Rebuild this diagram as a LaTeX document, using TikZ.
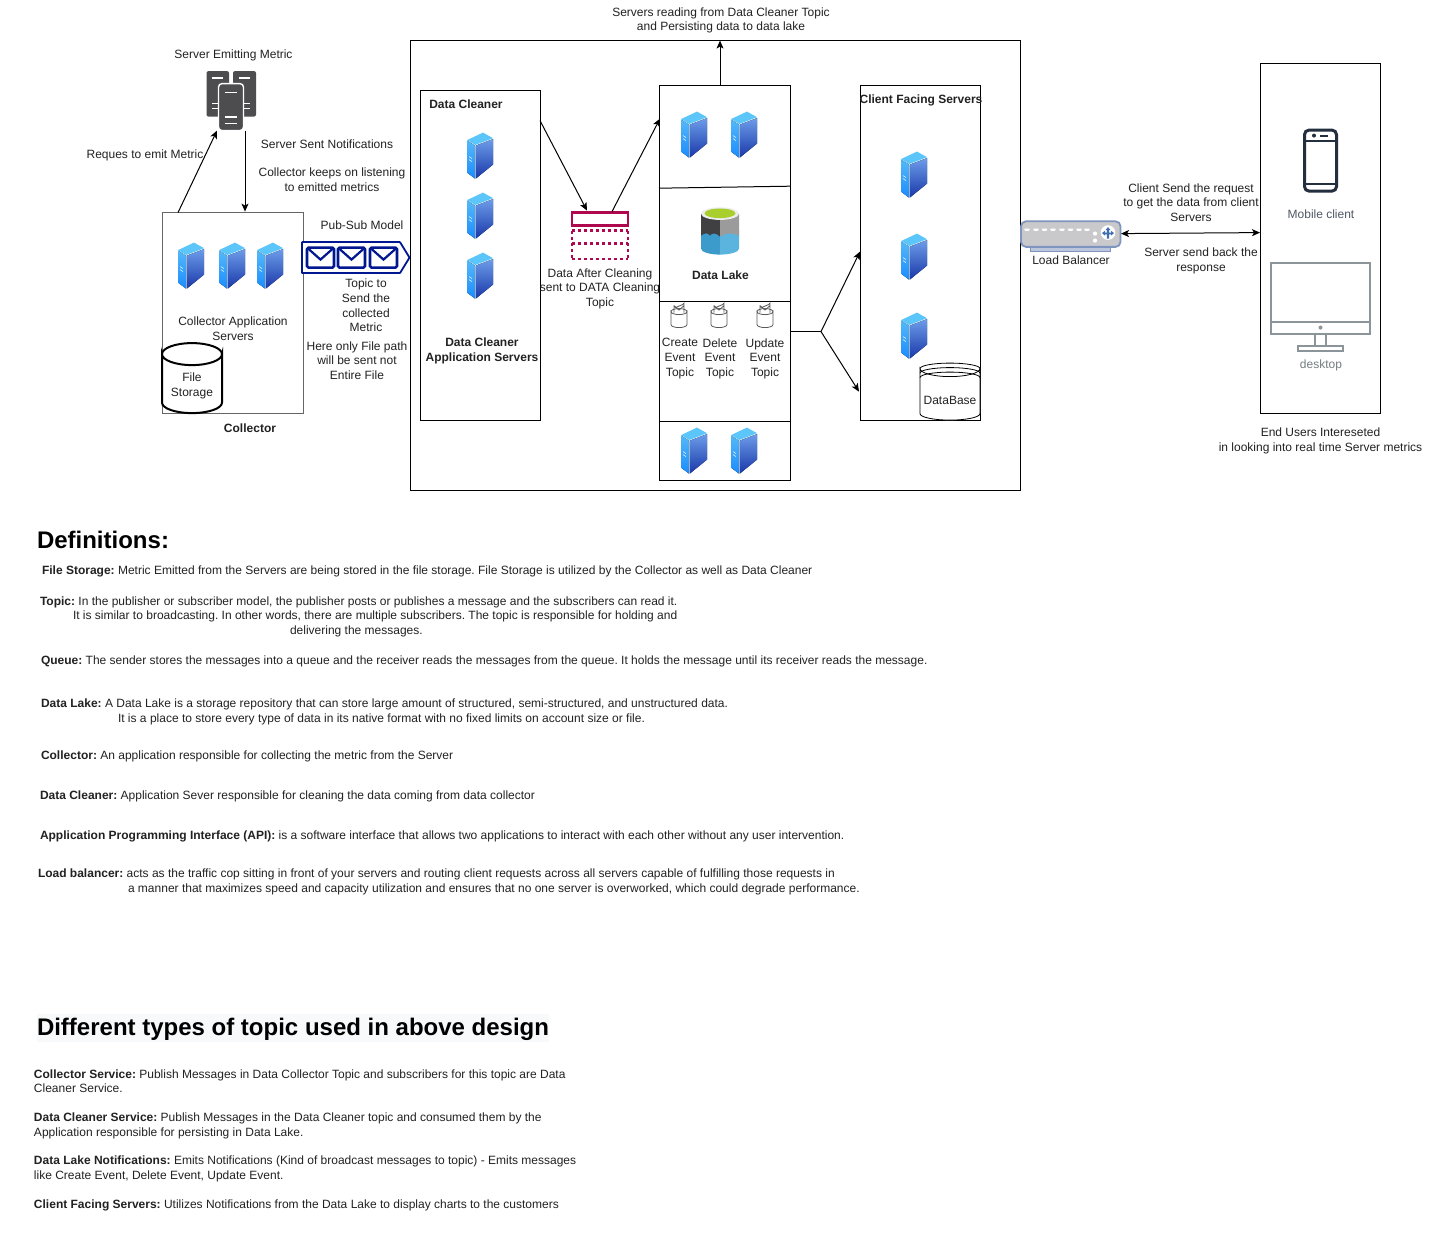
\documentclass[tikz,border=0pt]{standalone}
\usepackage{fontspec}
\setmainfont{Liberation Sans}
\usetikzlibrary{arrows.meta,calc}
\definecolor{lbl}{HTML}{222222}
\definecolor{navy}{HTML}{00188F}
\definecolor{pinkt}{HTML}{B0084F}
\definecolor{cardgrey}{HTML}{666666}
\definecolor{darksrv}{HTML}{4D4D4F}
\definecolor{phone}{HTML}{232F3E}
\definecolor{deskgrey}{HTML}{8A9499}
\definecolor{srvL1}{HTML}{55B8F8}
\definecolor{srvL2}{HTML}{1A8CFF}
\definecolor{srvR1}{HTML}{6C9CEA}
\definecolor{srvR2}{HTML}{1A38A8}
\definecolor{srvT}{HTML}{5CC5F9}
\definecolor{lbstroke}{HTML}{7F94BE}
\definecolor{lbbase}{HTML}{BBC6DD}
\definecolor{lbfill}{HTML}{C9C9CB}
\definecolor{lbicon}{HTML}{3F6FAF}
\definecolor{waterL}{HTML}{3C9BCB}
\definecolor{waterR}{HTML}{5BB4DE}
\definecolor{lkgreen}{HTML}{A8CF2D}
\definecolor{lkdark}{HTML}{404042}
\definecolor{lkgrey}{HTML}{9B9B9B}
\definecolor{headbg}{HTML}{F8F9FA}
\tikzset{
  x=1pt,y=-1pt,
  lab/.style={font=\fontsize{12}{14.6}\selectfont\frenchspacing,text=lbl,align=center,inner sep=0pt,outer sep=0pt},
  blab/.style={lab,font=\fontsize{12}{14.6}\selectfont\bfseries},
  glab/.style={lab,text=#1},
  para/.style={font=\fontsize{12}{14.6}\selectfont\frenchspacing,text=lbl,anchor=base west,inner sep=0pt,outer sep=0pt},
  head/.style={font=\fontsize{24}{28}\selectfont\bfseries,text=black,anchor=base west,inner sep=0pt,outer sep=0pt},
  boxst/.style={draw=black,line width=1pt,fill=white,rectangle,inner sep=0pt,outer sep=0pt},
  ghost/.style={rectangle,inner sep=0pt,outer sep=0pt},
  conn/.style={draw=black,line width=1pt},
  arr/.style={conn,-{Stealth[length=8pt,width=7pt,inset=2pt]}},
  arrb/.style={conn,{Stealth[length=8pt,width=7pt,inset=2pt]}-{Stealth[length=8pt,width=7pt,inset=2pt]}},
}
% name, x0, y0, x1, y1, style
\newcommand{\rbox}[6]{%
  \pgfmathsetmacro{\rw}{#4-#2}\pgfmathsetmacro{\rh}{#5-#3}%
  \node[#6,minimum width=\rw pt,minimum height=\rh pt] (#1) at ({(#2+#4)/2},{(#3+#5)/2}) {};}
% server icon at top-left x,y
\newcommand{\srv}[2]{%
  \begin{scope}[shift={(#1,#2)}]
    \fill[top color=srvL1,bottom color=srvL2] (0,8) -- (8,13) -- (8,46) -- (0,40) -- cycle;
    \fill[top color=srvR1,bottom color=srvR2] (8.8,13) -- (26,6.5) -- (26,32) -- (8.8,46) -- cycle;
    \fill[srvT] (0,7.5) -- (16,0) -- (26,5.6) -- (8.3,12.4) -- cycle;
    \draw[white,line width=.5pt] (2,24) -- (5,26) (2,27) -- (5,29);
  \end{scope}}
% envelope at x0,y0 - x1,y1
\newcommand{\envl}[4]{%
  \draw[navy,line width=2.6pt,rounded corners=1.5pt,fill=white] (#1,#2) rectangle (#3,#4);
  \draw[navy,line width=2.2pt] (#1,#2) -- ({(#1+#3)/2},{#2+12}) -- (#3,#2);}
% mini topic
\newcommand{\minit}[2]{%
  \begin{scope}[shift={(#1,#2)}]
    \draw[draw=black!65,line width=.8pt,fill=white] (-8,7) arc[start angle=180,end angle=0,x radius=8,y radius=3] -- (8,20) arc[start angle=0,end angle=180,x radius=8,y radius=3] -- cycle;
    \draw[draw=black!65,line width=.8pt,fill=white] (-5,8) -- (-5,1.5) arc[start angle=180,end angle=90,radius=1.5] -- (3.5,0) arc[start angle=90,end angle=0,radius=1.5] -- (5,8) (-5,1) -- (0,5.5) -- (5,1);
    \draw[draw=black!65,line width=.8pt] (-8,7) arc[start angle=180,end angle=360,x radius=8,y radius=3];
  \end{scope}}
\newcommand{\lbdot}[1]{\fill[white,rounded corners=.8pt] (#1,228) -- ++(6,0) -- ++(-1,2.4) -- ++(-4,0) -- cycle;}
\begin{document}
\begin{tikzpicture}
\useasboundingbox (0,0) rectangle (1436,1241);
\fill[white] (0,0) rectangle (1436,1241);

\begin{scope}[shift={(0,0.6)}]
% containers
\rbox{main}{410}{40}{1020}{490}{boxst}
\rbox{cleaner}{420}{90}{540}{420}{boxst}
\rbox{lake}{659}{85}{790}{480}{boxst}
\rbox{client}{860}{85}{980}{420}{boxst}
\rbox{collector}{162}{212}{303}{413}{boxst,draw=cardgrey}
\rbox{users}{1260}{63}{1380}{413}{boxst}
\draw[conn] (lake.west |- 0,187.6) -- (lake.east |- 0,185.6);
\draw[conn] (lake.west |- 0,300.6) -- (lake.east |- 0,300.6);
\draw[conn] (lake.west |- 0,420.6) -- (lake.east |- 0,420.6);

% servers
\srv{178}{242}\srv{219}{242}\srv{257}{242}
\srv{467}{132}\srv{467}{192}\srv{467}{252}
\srv{681}{111}\srv{731}{111}
\srv{681}{427}\srv{731}{427}
\srv{901}{151}\srv{901}{233}\srv{901}{312}

% Emitting server icon
\rbox{emit}{206}{70}{256}{130}{ghost}
\fill[darksrv,rounded corners=2pt] (206.5,70.5) rectangle (229,116);
\fill[darksrv,rounded corners=2pt] (233,70.5) rectangle (256,116);
\draw[white,line width=1.2pt] (212,77.5) -- (223,77.5) (239,77.5) -- (250,77.5) (212,103) -- (218,103) (244,103) -- (250,103) (212,108) -- (218,108) (244,108) -- (250,108);
\draw[fill=darksrv,draw=white,line width=1.4pt,rounded corners=3.5pt] (218.5,83) rectangle (243.5,130);
\draw[white,line width=1.3pt] (225,92) -- (237,92) (225,116.5) -- (237,116.5) (225,123) -- (237,123);

% file storage
\rbox{filest}{162}{343}{222}{413}{ghost}
\draw[black,line width=2pt,fill=white] (162,353.5) arc[start angle=180,end angle=0,x radius=30,y radius=11] -- (222,402) arc[start angle=0,end angle=180,x radius=30,y radius=10.5] -- cycle;
\draw[black,line width=2pt] (162,353.5) arc[start angle=180,end angle=360,x radius=30,y radius=11];

% pub sub queue
\rbox{queue}{301}{241}{410}{273}{ghost}
\draw[navy,line width=1.8pt,fill=white,rounded corners=.5pt] (302,241.5) -- (400,241.5) -- (409.5,257) -- (400,272.5) -- (302,272.5) -- cycle;
\envl{307}{247}{334}{267}
\envl{338}{247}{365}{267}
\envl{370}{247}{397}{267}

% pink topic icon
\rbox{topic}{571}{211}{628}{260}{ghost}
\draw[pinkt,line width=2.4pt,fill=white] (572,212) rectangle (628,225);
\draw[pinkt,line width=2.4pt,dash pattern=on 3pt off 3pt] (572,230) -- (628,230) (572,243) -- (628,243) (572,258.5) -- (628,258.5) (572,230) -- (572,258.5) (628,230) -- (628,258.5);

% data lake icon
\rbox{dlake}{701}{207}{739}{255}{ghost}
\fill[waterL] (701,230) -- (720,230) -- (720,254) arc[start angle=90,end angle=180,x radius=19,y radius=6] -- cycle;
\fill[waterR] (739,230) -- (720,230) -- (720,254) arc[start angle=90,end angle=0,x radius=19,y radius=6] -- cycle;
\fill[lkdark] (701,213) -- (720,213) -- (720,236) .. controls (716,232) and (712,232) .. (710,235) .. controls (708,232) and (705,232) .. (701,235) -- cycle;
\fill[lkgrey] (739,213) -- (720,213) -- (720,236) .. controls (725,232) and (733,232) .. (739,235) -- cycle;
\fill[white!93!black] (720,213) ellipse[x radius=19,y radius=6.3];
\fill[lkgreen] (720,212.7) ellipse[x radius=15.5,y radius=4.8];

% mini topics
\minit{679}{304}\minit{719}{304}\minit{765}{304}

% database
\rbox{dbase}{920}{360}{980}{420}{ghost}
\draw[black,line width=.8pt,fill=white] (920,368) arc[start angle=180,end angle=0,x radius=30,y radius=8] -- (980,413) arc[start angle=0,end angle=180,x radius=30,y radius=6.5] -- cycle;
\draw[black,line width=.8pt] (920,368) arc[start angle=180,end angle=360,x radius=30,y radius=5.5]
  (920,372.5) arc[start angle=180,end angle=360,x radius=30,y radius=5.5]
  (920,377) arc[start angle=180,end angle=360,x radius=30,y radius=5.5];

% load balancer
\rbox{lb}{1020}{220}{1121}{247}{ghost}
\draw[draw=lbstroke,fill=lbbase,line width=1pt] (1030,246) rectangle (1110,250.5);
\draw[draw=lbstroke,fill=lbfill,line width=1.8pt,rounded corners=5pt] (1021,220.7) rectangle (1120.5,246.3);
\lbdot{1024}\lbdot{1033}\lbdot{1041.5}\lbdot{1050}\lbdot{1059}\lbdot{1067.5}\lbdot{1076}\lbdot{1084}
\fill[white] (1095,233) circle (2.1) (1095,240) circle (2.1);
\fill[white] (1108,232) circle (7.3);
\fill[lbicon] (1108,226.5) -- (1110.5,229.5) -- (1109.2,229.5) -- (1109.2,232) -- (1111,232) -- (1111,230.2) -- (1114,232.5) -- (1111,235) -- (1111,233.8) -- (1109.2,233.8) -- (1109.2,238) -- (1106.8,238) -- (1106.8,233.8) -- (1105,233.8) -- (1105,235) -- (1102,232.5) -- (1105,230.2) -- (1105,232) -- (1106.8,232) -- (1106.8,229.5) -- (1105.5,229.5) -- cycle;

% phone
\rbox{mob}{1303}{128}{1338}{192}{ghost}
\draw[phone,line width=3pt,rounded corners=4.5pt,fill=white] (1304.5,129.5) rectangle (1336.5,190.5);
\draw[phone,line width=2pt] (1304.5,140) -- (1336.5,140) (1304.5,183) -- (1336.5,183);
\fill[phone] (1314,135) circle (2);
\draw[phone,line width=2pt] (1320,135) -- (1328,135);

% desktop
\rbox{desk}{1271}{262}{1370}{351}{ghost}
\draw[deskgrey,line width=2pt] (1271,262) rectangle (1370,333) (1271,321) -- (1370,321);
\fill[deskgrey] (1320.5,327) circle (2);
\draw[deskgrey,line width=2pt] (1315,333) -- (1315,345) (1326,333) -- (1326,345) (1298,345.5) rectangle (1343,350.5);

% connectors
\draw[arr] ($(collector.north west)+(16,0)$) -- ($(emit.south west)+(11,0)$);
\draw[arr] ($(emit.south)+(14,0)$) -- ($(collector.north)+(12.5,-1)$);
\draw[arr] ($(cleaner.north east)+(0,30)$) -- ($(topic.north west)+(16,-1)$);
\draw[arr] ($(topic.north west)+(41,0)$) -- ($(lake.north west)+(1,33)$);
\coordinate (lktop) at ($(lake.north)+(-4.5,0)$);
\draw[arr] (lktop) -- (lktop |- main.north);
\coordinate (fork) at ($(lake.east |- 0,331)+(31,0)$);
\draw[conn] (lake.east |- fork) -- (fork);
\draw[arr] (fork) -- ($(client.west |- 0,251)$);
\draw[arr] (fork) -- ($(client.west |- 0,391)+(-1,0)$);
\draw[arrb] (lb.east |- 0,233) -- (users.west |- 0,232);

% labels
\node[lab] (t1) at (233.5,55) {Server Emitting Metric};
\node[lab] (t2) at (145,155) {Reques to emit Metric};
\node[lab] (t3) at (327,143.5) {Server Sent Notifications};
\node[lab] (t4) at (332,179) {Collector keeps on listening\\to emitted metrics};
\node[lab] (t5) at (362,224.5) {Pub-Sub Model};
\node[lab] (t6) at (366,305) {Topic to\\Send the\\collected\\Metric};
\node[lab] (t7) at (357,360) {Here only File path\\will be sent not\\Entire File};
\node[lab] (t8) at (233,328) {Collector Application\\Servers};
\node[lab] (t9) at (192,385) {File\\Storage};
\node[blab] (t10) at (250,427.5) {Collector};
\node[blab] (t11) at (466,104) {Data Cleaner};
\node[blab] (t12) at (482,350.5) {Data Cleaner\\Application Servers};
\node[lab] (t13) at (721,20) {Servers reading from Data Cleaner Topic\\and Persisting data to data lake};
\node[lab] (t14) at (600,288) {Data After Cleaning\\sent to DATA Cleaning\\Topic};
\node[blab] (t15) at (720.5,274.5) {Data Lake};
\node[lab] (t16) at (680,358) {Create\\Event\\Topic};
\node[lab] (t17) at (720,358) {Delete\\Event\\Topic};
\node[lab] (t18) at (765,358) {Update\\Event\\Topic};
\node[blab] (t19) at (921,99.5) {Client Facing Servers};
\node[lab] (t20) at (950,399.5) {DataBase};
\node[lab] (t21) at (1071,259.5) {Load Balancer};
\node[lab] (t22) at (1191,202) {Client Send the request\\to get the data from client\\Servers};
\node[lab] (t23) at (1201,260) {Server send back the\\response};
\node[glab={phone!80!white}] (t24) at (1321,213.5) {Mobile client};
\node[glab={deskgrey!85!black}] (t25) at (1321,364.5) {desktop};
\node[lab] (t26) at (1320.5,440) {End Users Intereseted\\in looking into real time Server metrics};
\end{scope}

% definitions
\node[head] (h1) at (37,548) {Definitions:};
\node[para] (p1) at (42,574) {\textbf{File Storage:} Metric Emitted from the Servers are being stored in the file storage. File Storage is utilized by the Collector as well as Data Cleaner};
\node[para] (p2) at (40,605) {\textbf{Topic:} In the publisher or subscriber model, the publisher posts or publishes a message and the subscribers can read it.};
\node[para] (p3) at (73,619) {It is similar to broadcasting. In other words, there are multiple subscribers. The topic is responsible for holding and};
\node[para] (p4) at (290,634) {delivering the messages.};
\node[para] (p5) at (41,664) {\textbf{Queue:} The sender stores the messages into a queue and the receiver reads the messages from the queue. It holds the message until its receiver reads the message.};
\node[para] (p6) at (41,707) {\textbf{Data Lake:} A Data Lake is a storage repository that can store large amount of structured, semi-structured, and unstructured data.};
\node[para] (p7) at (118,722) {It is a place to store every type of data in its native format with no fixed limits on account size or file.};
\node[para] (p8) at (41,759) {\textbf{Collector:} An application responsible for collecting the metric from the Server};
\node[para] (p9) at (40,799) {\textbf{Data Cleaner:} Application Sever responsible for cleaning the data coming from data collector};
\node[para] (p10) at (40,839) {\textbf{Application Programming Interface (API):} is a software interface that allows two applications to interact with each other without any user intervention.};
\node[para] (p11) at (38,877) {\textbf{Load balancer:} acts as the traffic cop sitting in front of your servers and routing client requests across all servers capable of fulfilling those requests in};
\node[para] (p12) at (128,892) {a manner that maximizes speed and capacity utilization and ensures that no one server is overworked, which could degrade performance.};

\fill[headbg] (37,1014) rectangle (549,1042);
\node[head] (h2) at (37,1035) {Different types of topic used in above design};
\node[para] (q1) at (34,1078) {\textbf{Collector Service:} Publish Messages in Data Collector Topic and subscribers for this topic are Data};
\node[para] (q2) at (34,1092) {Cleaner Service.};
\node[para] (q3) at (34,1121) {\textbf{Data Cleaner Service:} Publish Messages in the Data Cleaner topic and consumed them by the};
\node[para] (q4) at (34,1136) {Application responsible for persisting in Data Lake.};
\node[para] (q5) at (34,1164) {\textbf{Data Lake Notifications:} Emits Notifications (Kind of broadcast messages to topic) - Emits messages};
\node[para] (q6) at (34,1179) {like Create Event, Delete Event, Update Event.};
\node[para] (q7) at (34,1208) {\textbf{Client Facing Servers:} Utilizes Notifications from the Data Lake to display charts to the customers};
\end{tikzpicture}
\end{document}
